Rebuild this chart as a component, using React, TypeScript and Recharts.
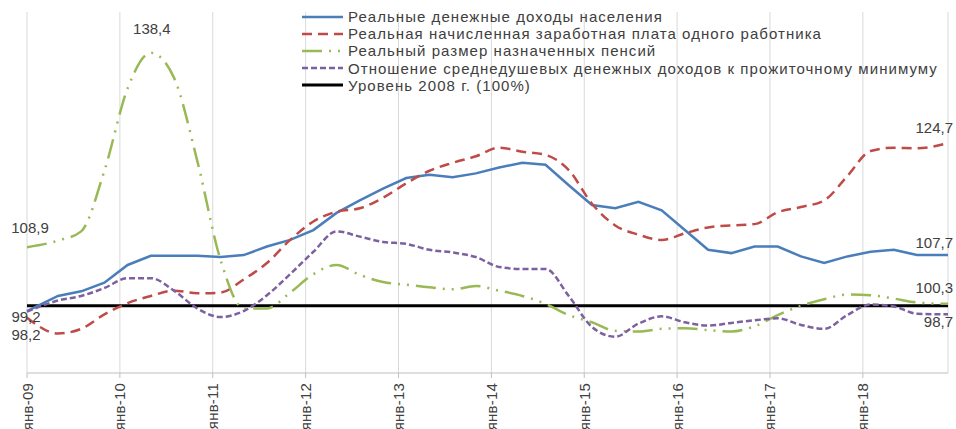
import { LineChart, Line, XAxis, YAxis, CartesianGrid, ReferenceLine } from "recharts";

// month index from янв-09 (quarterly points)
const months = [0, 4, 7, 10, 13, 16, 19, 22, 25, 28, 31, 34, 37, 40, 43, 46, 49, 52, 55, 58, 61, 64, 67, 70, 73, 76, 79, 82, 85, 88, 91, 94, 97, 100, 103, 106, 109, 112, 115, 119];

const incomes = [99.2, 101.5, 102.2, 103.5, 106.2, 107.6, 107.6, 107.6, 107.4, 107.7, 109.0, 110.0, 111.5, 114.1, 116.0, 117.8, 119.4, 119.9, 119.5, 120.1, 121.0, 121.7, 121.4, 118.3, 115.3, 114.8, 115.8, 114.5, 111.5, 108.5, 108.0, 109.0, 109.0, 107.5, 106.5, 107.5, 108.2, 108.5, 107.7, 107.7];
const wages = [98.2, 95.8, 96.5, 98.7, 100.4, 101.5, 102.3, 101.9, 102.0, 104.0, 106.5, 110.0, 112.8, 114.3, 114.8, 116.4, 118.6, 120.5, 121.7, 122.7, 124.0, 123.4, 122.9, 120.6, 115.5, 112.2, 110.8, 110.0, 111.0, 111.9, 112.2, 112.4, 114.2, 115.0, 116.0, 119.7, 123.5, 124.0, 123.9, 124.7];
const pensions = [108.9, 109.9, 111.3, 120.5, 133.0, 138.4, 134.6, 122.0, 107.0, 99.6, 99.6, 102.0, 104.8, 106.2, 104.7, 103.6, 103.2, 102.8, 102.5, 103.0, 102.3, 101.5, 100.3, 98.6, 97.5, 96.2, 96.1, 96.5, 96.6, 96.3, 96.1, 96.9, 98.6, 100.0, 101.0, 101.7, 101.6, 101.1, 100.5, 100.3];
const ratio = [99.1, 100.8, 101.5, 102.7, 104.2, 104.2, 102.3, 99.6, 98.3, 99.2, 101.6, 104.8, 108.2, 111.3, 110.5, 109.7, 109.4, 108.5, 108.1, 107.4, 105.9, 105.6, 105.6, 101.5, 96.8, 95.3, 97.3, 98.4, 97.5, 97.0, 97.4, 97.8, 98.1, 97.1, 96.5, 98.6, 100.2, 99.9, 98.8, 98.7];
const baseLevel = 100;

const tickMonths = [0, 12, 24, 36, 48, 60, 72, 84, 96, 108];
const tickLabels = ["янв-09", "янв-10", "янв-11", "янв-12", "янв-13", "янв-14", "янв-15", "янв-16", "янв-17", "янв-18"];

const seriesNames = [
  "Реальные денежные доходы населения",
  "Реальная начисленная заработная плата одного работника",
  "Реальный размер назначенных пенсий",
  "Отношение среднедушевых денежных доходов к прожиточному минимуму",
  "Уровень 2008 г. (100%)",
];

const data = months.map((m, i) => ({
  m,
  incomes: incomes[i],
  wages: wages[i],
  pensions: pensions[i],
  ratio: ratio[i],
}));

const FONT = "'Liberation Sans', Arial, sans-serif";
const TEXT = "#404040";

const styles = [
  { color: "#4a7ebb", dash: undefined, width: 2.5 },
  { color: "#be4b48", dash: "10 6", width: 2.5 },
  { color: "#98b954", dash: "20 7 2 7 2 7", width: 2.5 },
  { color: "#7d60a0", dash: "6 3", width: 2.5 },
  { color: "#000000", dash: undefined, width: 3 },
];

// which points get a value label: index -> [dx, dy, anchor]
const labelSpots: Record<string, Record<number, [number, number, string]>> = {
  incomes: { 0: [-1, 5, "middle"], 39: [5, -13, "end"] },
  wages: { 0: [-1, 17, "middle"], 39: [5, -16, "end"] },
  pensions: { 0: [3, -20, "middle"], 5: [1, -24, "middle"], 39: [5, -16, "end"] },
  ratio: { 39: [5, 7, "end"] },
};

const fmt = (v: number) => v.toFixed(1).replace(".", ",");

const makeLabel = (key: string) => (props: any) => {
  const { x, y, index, value } = props;
  const spot = labelSpots[key][index];
  if (!spot) return null;
  return (
    <text
      key={key + index}
      x={x + spot[0]}
      y={y + spot[1]}
      textAnchor={spot[2] as any}
      dominantBaseline="central"
      fontSize={15}
      fontFamily={FONT}
      fill={TEXT}
    >
      {fmt(value)}
    </text>
  );
};

const RotatedTick = (props: any) => {
  const { x, y, payload } = props;
  const label = tickLabels[tickMonths.indexOf(payload.value)];
  const ty = y + 3;
  return (
    <text
      x={x}
      y={ty}
      transform={`rotate(-90 ${x} ${ty})`}
      textAnchor="end"
      dominantBaseline="central"
      fontSize={15}
      letterSpacing={0.2}
      fontFamily={FONT}
      fill={TEXT}
    >
      {label}
    </text>
  );
};

function ChartLegend() {
  return (
    <div style={{ position: "absolute", left: 301, top: 8, fontFamily: FONT, fontSize: 15, color: TEXT, letterSpacing: 1.05 }}>
      {seriesNames.map((name, i) => (
        <div key={name} style={{ display: "flex", alignItems: "center", height: 17.2, whiteSpace: "nowrap" }}>
          <svg width={44} height={10} style={{ marginRight: 3 }}>
            <line
              x1={1}
              y1={5}
              x2={42}
              y2={5}
              stroke={styles[i].color}
              strokeWidth={styles[i].width}
              strokeDasharray={styles[i].dash}
            />
          </svg>
          <span>{name}</span>
        </div>
      ))}
    </div>
  );
}

export default function App() {
  const keys = ["incomes", "wages", "pensions", "ratio"];
  return (
    <div style={{ position: "relative", width: 956, height: 429, background: "#fff", overflow: "hidden" }}>
      <style>{"body{margin:0}"}</style>
      <LineChart width={956} height={429} data={data} margin={{ top: 12, right: 8, left: 27, bottom: 0 }}>
        <CartesianGrid horizontal={false} stroke="#d9d9d9" />
        <XAxis
          dataKey="m"
          type="number"
          domain={[0, 119]}
          ticks={tickMonths}
          height={56}
          tickSize={5}
          axisLine={{ stroke: "#bfbfbf" }}
          tickLine={{ stroke: "#bfbfbf" }}
          tick={<RotatedTick />}
          interval={0}
        />
        <YAxis type="number" domain={[89.8, 144.6]} hide />
        <ReferenceLine y={baseLevel} stroke="#000" strokeWidth={3} />
        {keys.map((k, i) => (
          <Line
            key={k}
            dataKey={k}
            type={i === 0 ? "linear" : "monotone"}
            stroke={styles[i].color}
            strokeWidth={styles[i].width}
            strokeDasharray={styles[i].dash}
            dot={false}
            activeDot={false}
            label={makeLabel(k)}
            isAnimationActive={false}
          />
        ))}
      </LineChart>
      <ChartLegend />
    </div>
  );
}
